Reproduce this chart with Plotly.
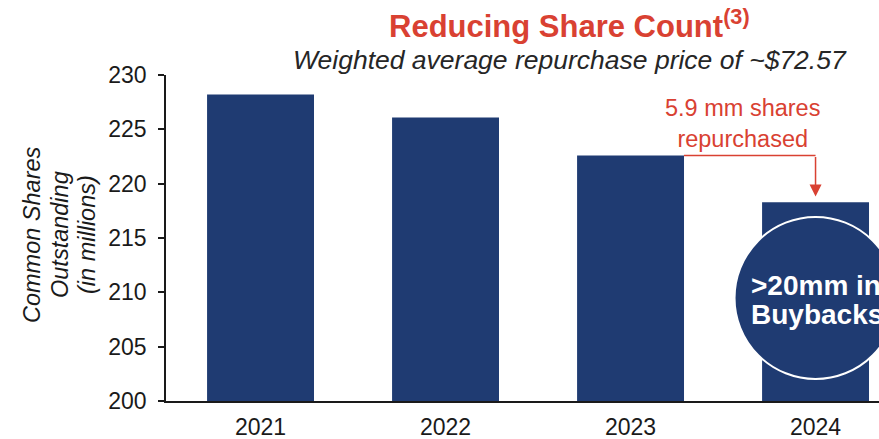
import plotly.graph_objects as go

years = ["2021", "2022", "2023", "2024"]
shares = [228.2, 226.1, 222.6, 218.3]
y_ticks = [200, 205, 210, 215, 220, 225, 230]

title_text = "Reducing Share Count"
title_sup = "(3)"
subtitle_text = "Weighted average repurchase price of ~$72.57"
callout_text = "5.9 mm shares<br>repurchased"
circle_text = [">20mm in", "Buybacks"]
y_title_lines = ["Common Shares", "Outstanding", "(in millions)"]

W, H = 879, 439
ML, MR, MT, MB = 166, 0, 75, 38
PW, PH = W - ML - MR, H - MT - MB

def px_x(p):
    return (p - ML) / PW

def px_y(p):
    return (H - MB - p) / PH

BLUE = "#1F3B72"
RED = "#D94132"
DARK = "#1a1a1a"
FONT = "Arial, Liberation Sans, sans-serif"
bar_w = 0.578
xs = list(range(len(years)))

fig = go.Figure()
fig.add_trace(go.Bar(x=xs, y=shares, width=bar_w, marker=dict(color=BLUE, line=dict(width=0)),
                     hoverinfo="skip"))

fig.update_layout(
    width=W, height=H, margin=dict(l=ML, r=MR, t=MT, b=MB, autoexpand=False),
    paper_bgcolor="white", plot_bgcolor="white", showlegend=False,
    font=dict(family=FONT, color=DARK),
    xaxis=dict(range=[-0.511, 3.343], tickvals=xs, ticktext=years, showgrid=False, zeroline=False,
               showline=True, linecolor=DARK, linewidth=1.5, ticks="", automargin=False,
               tickfont=dict(size=23, color=DARK), ticklabelstandoff=5),
    yaxis=dict(range=[200, 230], tickvals=y_ticks, showgrid=False, zeroline=False, automargin=False,
               showline=True, linecolor=DARK, linewidth=1.5, ticks="outside", ticklen=6,
               tickwidth=1.5, tickcolor=DARK, tickfont=dict(size=23, color=DARK),
               ticklabelstandoff=7),
)

# bracket line from 2023 bar to 2024
fig.add_shape(type="line", xref="x", yref="y", x0=2 + bar_w / 2, x1=3, y0=shares[2], y1=shares[2],
              line=dict(color=RED, width=1.5))
fig.add_annotation(x=3, y=shares[3] + 0.53, ax=3, ay=shares[2], xref="x", yref="y", axref="x", ayref="y",
                   showarrow=True, arrowhead=2, arrowsize=1.6, arrowwidth=1.5, arrowcolor=RED, text="")

# circle
fig.add_shape(type="circle", xref="x", yref="y", xsizemode="pixel", ysizemode="pixel",
              xanchor=3.0, yanchor=209.48, x0=-81, x1=81, y0=-81, y1=81,
              fillcolor=BLUE, line=dict(color="white", width=2))
for txt, yp in zip(circle_text, [285, 314]):
    fig.add_annotation(x=px_x(749), y=px_y(yp), xref="paper", yref="paper", xanchor="left", yanchor="middle",
                       text="<b>" + txt + "</b>", showarrow=False,
                       font=dict(size=28, color="white", family=FONT))

# callout text
fig.add_annotation(x=px_x(742), y=px_y(123), xref="paper", yref="paper", xanchor="center", yanchor="middle",
                   text=callout_text, showarrow=False, font=dict(size=23.5, color=RED, family=FONT))

# title and subtitle
fig.add_annotation(x=px_x(569), y=px_y(24), xref="paper", yref="paper", xanchor="center", yanchor="middle",
                   text="<b>" + title_text + "<sup>" + title_sup + "</sup></b>", showarrow=False,
                   font=dict(size=31, color=RED, family=FONT))
fig.add_annotation(x=px_x(569.5), y=px_y(60), xref="paper", yref="paper", xanchor="center", yanchor="middle",
                   text="<i>" + subtitle_text + "</i>", showarrow=False,
                   font=dict(size=26.5, color="#262626", family=FONT))

# y-axis title (three rotated lines)
for txt, xp in zip(y_title_lines, [32, 60, 87]):
    fig.add_annotation(x=px_x(xp), y=px_y(235), xref="paper", yref="paper", xanchor="center", yanchor="middle",
                       text="<i>" + txt + "</i>", textangle=-90, showarrow=False,
                       font=dict(size=23.5, color=DARK, family=FONT))

fig.write_html("out.html")
